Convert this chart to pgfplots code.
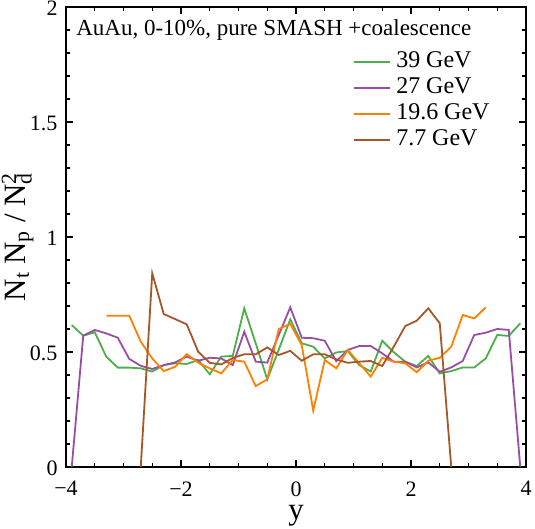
\documentclass[border=0pt]{standalone}
\usepackage{pgfplots}
\pgfplotsset{compat=1.18}
\usepackage{fontspec}
\setmainfont{Liberation Serif}
\definecolor{cgreen}{RGB}{77,175,74}
\definecolor{cpurple}{RGB}{152,78,163}
\definecolor{corange}{RGB}{255,127,0}
\definecolor{cbrown}{RGB}{166,86,40}
\begin{document}
\begin{tikzpicture}
\begin{axis}[name=ax,
  scale only axis, width=460bp, height=460bp,
  xmin=-4, xmax=4, ymin=0, ymax=2,
  xtick={-4,-2,0,2,4}, xticklabels={−4,−2,0,2,4},
  ytick={0,0.5,1,1.5,2}, yticklabels={0,0.5,1,1.5,2},
  minor x tick num=3, minor y tick num=4,
  tick align=inside, xtick pos=both, ytick pos=both,
  major tick length=7bp, minor tick length=4bp,
  every tick/.style={black, line width=1.1bp},
  axis line style={line width=1.6bp},
  ticklabel style={font=\fontsize{22bp}{24bp}\selectfont, inner sep=1bp},
  xticklabel style={yshift=-13.3bp},
  yticklabel style={xshift=-7.3bp, yshift=-1.5bp},
  xlabel={y}, ylabel={N\textsubscript{t} N\textsubscript{p} / N\rlap{\textsubscript{d}}\textsuperscript{2}},
  label style={font=\fontsize{31bp}{33bp}\selectfont},
  xlabel style={yshift=-4.5bp},
  ylabel style={yshift=-8bp},
  legend cell align=left,
  legend image code/.code={\draw[#1, line width=1.8bp] (0bp,0bp) -- (36bp,0bp);},
  legend style={at={(0.618,0.914)}, anchor=north west, draw=none, fill=none,
    font=\fontsize{24bp}{26bp}\selectfont,
    nodes={inner sep=2bp, text height=17bp, text depth=5bp},
    /tikz/every odd column/.append style={column sep=3bp}},
  every axis plot/.append style={line width=1.8bp},
]
\addplot[cgreen, line width=1.8bp] coordinates {
(-3.9,0.617)(-3.7,0.571)(-3.5,0.586)(-3.3,0.48)(-3.1,0.432)(-2.9,0.432)(-2.7,0.429)(-2.5,0.415)
(-2.3,0.443)(-2.1,0.451)(-1.9,0.448)(-1.7,0.465)(-1.5,0.403)(-1.3,0.48)(-1.1,0.483)(-0.9,0.69)
(-0.7,0.537)(-0.5,0.381)(-0.3,0.51)(-0.1,0.642)(0.1,0.538)(0.3,0.523)(0.5,0.472)(0.7,0.498)
(0.9,0.504)(1.1,0.443)(1.3,0.415)(1.5,0.549)(1.7,0.499)(1.9,0.458)(2.1,0.439)(2.3,0.483)
(2.5,0.407)(2.7,0.417)(2.9,0.433)(3.1,0.433)(3.3,0.472)(3.5,0.574)(3.7,0.57)(3.9,0.625)};
\addlegendentry{39 GeV}
\addplot[cpurple, line width=1.8bp] coordinates {
(-3.9,0)(-3.7,0.571)(-3.5,0.596)(-3.3,0.581)(-3.1,0.562)(-2.9,0.47)(-2.7,0.44)(-2.5,0.426)
(-2.3,0.443)(-2.1,0.455)(-1.9,0.48)(-1.7,0.462)(-1.5,0.475)(-1.3,0.472)(-1.1,0.443)(-0.9,0.588)
(-0.7,0.458)(-0.5,0.454)(-0.3,0.574)(-0.1,0.694)(0.1,0.562)(0.3,0.56)(0.5,0.549)(0.7,0.46)
(0.9,0.509)(1.1,0.526)(1.3,0.526)(1.5,0.494)(1.7,0.458)(1.9,0.458)(2.1,0.433)(2.3,0.455)
(2.5,0.414)(2.7,0.433)(2.9,0.461)(3.1,0.574)(3.3,0.584)(3.5,0.6)(3.7,0.596)(3.9,0)};
\addlegendentry{27 GeV}
\addplot[corange, line width=1.8bp] coordinates {
(-3.3,0.658)(-3.1,0.658)(-2.9,0.658)(-2.7,0.545)(-2.5,0.472)
(-2.3,0.417)(-2.1,0.436)(-1.9,0.491)(-1.7,0.453)(-1.5,0.429)(-1.3,0.407)(-1.1,0.465)(-0.9,0.458)
(-0.7,0.352)(-0.5,0.381)(-0.3,0.6)(-0.1,0.622)(0.1,0.53)(0.3,0.245)(0.5,0.465)(0.7,0.429)
(0.9,0.509)(1.1,0.451)(1.3,0.393)(1.5,0.475)(1.7,0.458)(1.9,0.451)(2.1,0.412)(2.3,0.462)
(2.5,0.475)(2.7,0.523)(2.9,0.661)(3.1,0.646)(3.3,0.694)};
\addlegendentry{19.6 GeV}
\addplot[cbrown, line width=1.8bp] coordinates {
(-2.7,0)(-2.5,0.842)(-2.3,0.665)(-2.1,0.643)(-1.9,0.62)(-1.7,0.501)(-1.5,0.453)(-1.3,0.446)
(-1.1,0.474)(-0.9,0.49)(-0.7,0.49)(-0.5,0.52)(-0.3,0.487)(-0.1,0.505)(0.1,0.462)(0.3,0.49)
(0.5,0.49)(0.7,0.468)(0.9,0.453)(1.1,0.458)(1.3,0.461)(1.5,0.439)(1.7,0.523)(1.9,0.613)
(2.1,0.636)(2.3,0.69)(2.5,0.625)(2.7,0)};
\addlegendentry{7.7 GeV}
\node[anchor=base west, font=\fontsize{23bp}{25bp}\selectfont, inner sep=0pt]
  at (axis description cs:0.022,0.939) {AuAu, 0-10\%, pure SMASH +coalescence};
\end{axis}
\pgfresetboundingbox
\path[use as bounding box] ([shift={(-66bp,-61bp)}]ax.south west) rectangle ([shift={(9bp,7bp)}]ax.north east);
\end{tikzpicture}
\end{document}
